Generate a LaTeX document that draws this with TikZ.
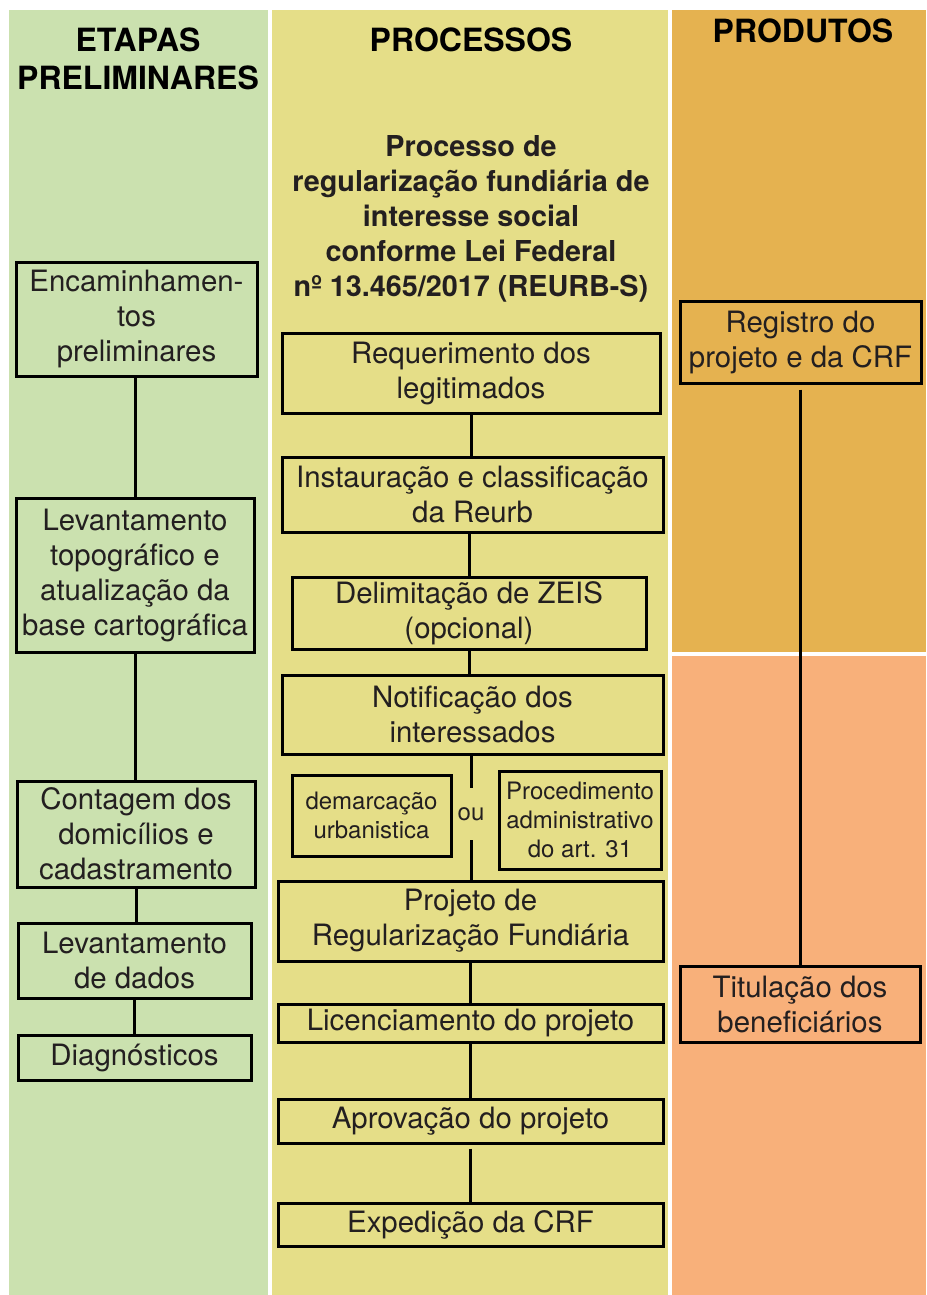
\documentclass[tikz,border=0pt]{standalone}
\usepackage{fontspec}
\setmainfont{TeX Gyre Heros}
\usetikzlibrary{positioning}

\definecolor{verde}{RGB}{203,225,175}
\definecolor{amarelo}{RGB}{229,222,136}
\definecolor{laranja}{RGB}{229,178,80}
\definecolor{salmao}{RGB}{248,176,122}
\definecolor{texto}{RGB}{35,31,32}

\tikzset{
    caixa/.style={draw=black, line width=1.5pt, inner sep=2pt, align=center,
        text=texto, font=\fontsize{14.7}{17.5}\selectfont},
    caixap/.style={caixa, font=\fontsize{12}{14.5}\selectfont},
    cabecalho/.style={align=center, text=black, font=\bfseries\fontsize{16}{19}\selectfont},
    ligacao/.style={line width=1.5pt, black}
}

\begin{document}
\begin{tikzpicture}[x=0.5pt, y=-0.5pt]

    \useasboundingbox (0,0) rectangle (926,1295);

    % -- Fundos das colunas --
    \fill[verde]   (9,10)   rectangle (268,1295);
    \fill[amarelo] (272,10) rectangle (668,1295);
    \fill[laranja] (672,10) rectangle (926,652);
    \fill[salmao]  (672,656) rectangle (926,1295);

    % -- Cabecalhos --
    \node[cabecalho] (hetapas) at (138,59) {ETAPAS\\PRELIMINARES};
    \node[cabecalho] (hproc)   at (471,40) {PROCESSOS};
    \node[cabecalho] (hprod)   at (803,31) {PRODUTOS};

    \node[align=center, text=texto, font=\bfseries\fontsize{14.4}{17.5}\selectfont] (titulo) at (471,219)
        {Processo de\\regularização fundiária de\\interesse social\\conforme Lei Federal\\nº 13.465/2017 (REURB-S)};

    % -- Coluna esquerda: etapas preliminares --
    \node[caixa, minimum width=120.5pt, minimum height=57pt] (enc) at (136.5,319)
        {Encaminhamen-\\tos\\preliminares};
    \node[caixa, minimum width=119pt, minimum height=77pt] (levtopo) at (135,575)
        {Levantamento\\topográfico e\\atualização da\\base cartográfica};
    \node[caixa, minimum width=119pt, minimum height=53pt] (contagem) at (136,834)
        {Contagem dos\\domicílios e\\cadastramento};
    \node[caixa, minimum width=116.5pt, minimum height=37.5pt] (levdados) at (134.5,960.5)
        {Levantamento\\de dados};
    \node[caixa, minimum width=116.5pt, minimum height=22.5pt] (diag) at (134.5,1057.5)
        {Diagnósticos};

    \draw[ligacao] (levtopo.north) -- (levtopo.north |- enc.south);
    \draw[ligacao] (levtopo.south) -- (levtopo.south |- contagem.north);
    \draw[ligacao] (contagem.south) -- (contagem.south |- levdados.north);
    \draw[ligacao] (levdados.south) -- (levdados.south |- diag.north);

    % -- Coluna central: processos --
    \node[caixa, minimum width=189pt, minimum height=40pt] (req) at (471,373)
        {Requerimento dos\\legitimados};
    \node[caixa, minimum width=190.5pt, minimum height=37.5pt] (inst) at (472.5,494.5)
        {Instauração e classificação\\da Reurb};
    \node[caixa, minimum width=177pt, minimum height=36pt] (delim) at (469,613)
        {Delimitação de ZEIS\\(opcional)};
    \node[caixa, minimum width=190.5pt, minimum height=39.5pt] (notif) at (472.5,714.5)
        {Notificação dos\\interessados};
    \node[caixap, minimum width=79.5pt, minimum height=40.5pt] (demarc) at (371.5,815.5)
        {demarcação\\urbanistica};
    \node[text=texto, font=\fontsize{12}{14.5}\selectfont, minimum height=26pt, inner sep=0pt] (ou) at (471,814) {ou};
    \node[caixap, minimum width=81pt, minimum height=49pt] (proced) at (580,820)
        {Procedimento\\administrativo\\do art. 31};
    \node[caixa, minimum width=192.5pt, minimum height=40pt] (projeto) at (470.5,921)
        {Projeto de\\Regularização Fundiária};
    \node[caixa, minimum width=192.5pt, minimum height=19pt] (lic) at (470.5,1023)
        {Licenciamento do projeto};
    \node[caixa, minimum width=192.5pt, minimum height=22pt] (aprov) at (470.5,1121)
        {Aprovação do projeto};
    \node[caixa, minimum width=192.5pt, minimum height=21.5pt] (exped) at (470.5,1224.5)
        {Expedição da CRF};

    \draw[ligacao] (req.south) -- (req.south |- inst.north);
    \draw[ligacao] (delim.north) -- (delim.north |- inst.south);
    \draw[ligacao] (delim.south) -- (delim.south |- notif.north);
    \draw[ligacao] (ou.north) -- (ou.north |- notif.south);
    \draw[ligacao] (ou.south) -- (ou.south |- projeto.north);
    \draw[ligacao] (projeto.south) -- (projeto.south |- lic.north);
    \draw[ligacao] (lic.south) -- (lic.south |- aprov.north);
    \draw[ligacao, shorten <=2pt] (aprov.south) -- (aprov.south |- exped.north);

    % -- Coluna direita: produtos --
    \node[caixa, minimum width=120.5pt, minimum height=41pt] (registro) at (800.5,342)
        {Registro do\\projeto e da CRF};
    \node[caixa, minimum width=120pt, minimum height=38pt] (titulacao) at (800,1004)
        {Titulação dos\\beneficiários};

    \draw[ligacao, shorten <=2.5pt] (registro.south) -- (registro.south |- titulacao.north);

\end{tikzpicture}
\end{document}
